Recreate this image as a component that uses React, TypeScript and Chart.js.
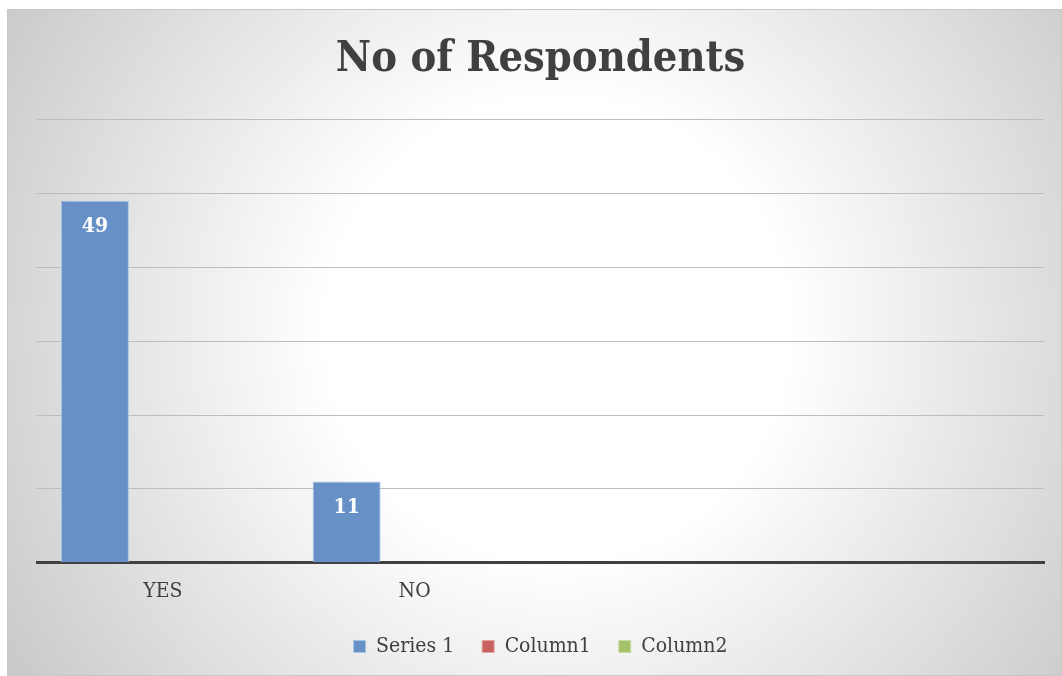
import React, { useEffect, useRef } from "react";
import { Chart, registerables } from "chart.js";

Chart.register(...registerables);

const categories = ["YES", "NO", "", ""];
const series1 = [49, 11, null, null];
const column1 = [null, null, null, null];
const column2 = [null, null, null, null];
const seriesNames = ["Series 1", "Column1", "Column2"];
const yTicks = [0, 10, 20, 30, 40, 50, 60];
const titleText = "No of Respondents";

const FONT = "'DejaVu Serif Condensed', 'DejaVu Serif', serif";

const bgPlugin = {
  id: "bgGradient",
  beforeDraw(chart: any) {
    const { ctx, width, height } = chart;
    ctx.save();
    const g = ctx.createRadialGradient(550, 320, 0, 550, 320, 700);
    g.addColorStop(0, "#ffffff");
    g.addColorStop(0.33, "#ffffff");
    g.addColorStop(1, "#c2c2c2");
    ctx.fillStyle = g;
    ctx.fillRect(0, 0, width, height);
    ctx.strokeStyle = "#c8c8c8";
    ctx.lineWidth = 1;
    ctx.strokeRect(0.5, 0.5, width - 1, height - 1);
    ctx.restore();
  },
};

const labelPlugin = {
  id: "barLabels",
  afterDatasetsDraw(chart: any) {
    const { ctx } = chart;
    const meta = chart.getDatasetMeta(0);
    const data = chart.data.datasets[0].data;
    ctx.save();
    ctx.fillStyle = "#ffffff";
    ctx.font = `bold 21px ${FONT}`;
    ctx.textAlign = "center";
    ctx.textBaseline = "middle";
    meta.data.forEach((bar: any, i: number) => {
      const v = data[i];
      if (v === null || v === undefined) return;
      ctx.fillText(String(v), bar.x, bar.y + 26);
    });
    ctx.restore();
  },
};

export default function App() {
  const ref = useRef<HTMLCanvasElement | null>(null);
  useEffect(() => {
    if (!ref.current) return;
    const chart = new Chart(ref.current, {
      type: "bar",
      data: {
        labels: categories,
        datasets: [
          {
            label: seriesNames[0],
            data: series1,
            backgroundColor: "#6690c6",
            borderColor: "#a9c3e4",
            borderWidth: 1,
          },
          {
            label: seriesNames[1],
            data: column1,
            backgroundColor: "#c9615e",
            borderColor: "#e0a3a1",
            borderWidth: 1,
          },
          {
            label: seriesNames[2],
            data: column2,
            backgroundColor: "#a5c26b",
            borderColor: "#cadca6",
            borderWidth: 1,
          },
        ],
      },
      options: {
        animation: false,
        responsive: true,
        maintainAspectRatio: false,
        layout: { padding: { left: 30, right: 18, top: 0, bottom: 9 } },
        datasets: { bar: { categoryPercentage: 0.81, barPercentage: 1 } },
        plugins: {
          title: {
            display: true,
            text: titleText,
            color: "#404040",
            font: { family: FONT, size: 43, weight: "bold" },
            padding: { top: 25, bottom: 34 },
          },
          legend: {
            display: true,
            position: "bottom",
            labels: {
              boxWidth: 12,
              boxHeight: 12,
              color: "#404040",
              font: { family: FONT, size: 21 },
              padding: 16,
              generateLabels(chart: any) {
                const items = Chart.defaults.plugins.legend.labels.generateLabels(chart);
                return items.map((it: any, i: number) =>
                  i < items.length - 1 ? { ...it, text: it.text + "  " } : it
                );
              },
            },
          },
          tooltip: { enabled: false },
        },
        scales: {
          x: {
            grid: { display: false, drawTicks: false },
            border: { display: true, color: "#404040", width: 3 },
            ticks: {
              color: "#404040",
              font: { family: FONT, size: 21 },
              padding: 16,
            },
          },
          y: {
            min: yTicks[0],
            max: yTicks[yTicks.length - 1],
            afterBuildTicks(axis: any) {
              axis.ticks = yTicks.map((v) => ({ value: v }));
            },
            grid: {
              drawTicks: false,
              color: (c: any) => (c.tick && c.tick.value === 0 ? "rgba(0,0,0,0)" : "#bdbdbd"),
              lineWidth: 1,
            },
            border: { display: false },
            ticks: { display: false },
          },
        },
      },
      plugins: [bgPlugin, labelPlugin],
    });
    return () => chart.destroy();
  }, []);
  return (
    <div style={{ position: "absolute", left: 7, top: 9, width: 1055, height: 667 }}>
      <canvas ref={ref} />
    </div>
  );
}
